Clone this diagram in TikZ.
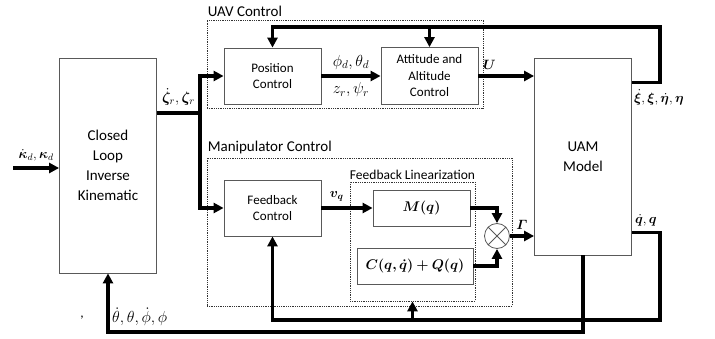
\RequirePackage{fix-cm}
\documentclass[tikz,border=0pt]{standalone}
\usepackage{amsmath}
\usepackage[no-math]{fontspec}
\setmainfont{Carlito}
\usepackage{bm}
\usetikzlibrary{arrows.meta,calc}

\tikzset{
  blk/.style={draw=black!65, line width=0.8pt, minimum width=97pt, align=center,
    font=\fontsize{13}{16.5}\selectfont, inner sep=2pt},
  grp/.style={draw=black!80, densely dotted, line width=0.8pt, inner sep=0pt},
  sig/.style={line width=3.2pt, -{Triangle[length=10pt,width=10pt]}},
  wire/.style={line width=3.2pt},
  lbl/.style={font=\fontsize{13.5}{15}\selectfont, inner sep=1pt},
  lblbig/.style={font=\fontsize{16}{18}\selectfont, inner sep=1pt},
  grplbl/.style={font=\fontsize{15}{17}\selectfont, inner sep=1pt}
}

\begin{document}
\begin{tikzpicture}[x=1pt,y=-1pt]
  \useasboundingbox (0,0) rectangle (715,339);

  % groups
  \node[grp, minimum width=276pt, minimum height=88pt] (uav) at (345,64) {};
  \node[grplbl, anchor=south west] at ($(uav.north west)+(0,-2)$) {UAV Control};
  \node[grp, minimum width=305pt, minimum height=148pt] (man) at (359.5,232) {};
  \node[grplbl, anchor=south west] at ($(man.north west)+(0,-2)$) {Manipulator Control};
  \node[grp, minimum width=125pt, minimum height=119pt] (fl) at (412.5,241.5) {};
  \node[font=\fontsize{13.5}{15}\selectfont, inner sep=1pt, anchor=south] at ($(fl.north)+(0,-1)$) {Feedback Linearization};

  % blocks
  \node[blk, minimum height=215pt, font=\fontsize{15}{20}\selectfont] (clik) at (108,165.5) {Closed\\Loop\\Inverse\\Kinematic};
  \node[blk, minimum height=56pt] (pos) at (272.5,76) {Position\\Control};
  \node[blk, minimum height=57pt] (att) at (429.5,76) {Attitude and\\Altitude\\Control};
  \node[blk, minimum height=197pt, font=\fontsize{15}{20}\selectfont] (uam) at (583,156.5) {UAM\\Model};
  \node[blk, minimum height=36pt, font=\fontsize{14}{16}\selectfont] (mq) at (421.5,208) {$\bm{M(q)}$};
  \node[blk, minimum height=56pt] (fbc) at (272.5,208) {Feedback\\Control};
  \node[blk, minimum width=116pt, minimum height=36pt, font=\fontsize{14}{16}\selectfont] (cq) at (415,266) {$\bm{C(q,\dot{q})+Q(q)}$};
  \node[draw=black!65, line width=0.8pt, circle, minimum size=25pt, inner sep=0pt] (sum) at (497,236) {};
  \draw[black!65, line width=0.8pt] (sum.north east) -- (sum.south west);
  \draw[black!65, line width=0.8pt] (sum.north west) -- (sum.south east);

  % signals
  \coordinate (in) at (13,168);
  \coordinate (jn) at (200,113);
  \coordinate (uo1) at ($(uam.north east)+(0,25)$);
  \coordinate (uo2) at ($(uam.south east)+(0,-23)$);
  \coordinate (fbT) at (660,27);
  \coordinate (fbB) at (660,320);
  \coordinate (fbK) at (583,332);

  \draw[sig] (in) -- (in -| clik.west) node[lbl, midway, above=4pt] {$\dot{\bm\kappa}_d,\bm\kappa_d$};
  \draw[wire] (clik.east |- jn) -- (jn) node[lbl, font=\fontsize{15}{17}\selectfont, midway, above=5pt] {$\dot{\bm\zeta}_r,\bm\zeta_r$};
  \draw[sig] (jn) |- (pos.west);
  \draw[sig] (jn) |- (fbc.west);
  \draw[sig] (pos) -- (att) node[lblbig, midway, above=4pt] {$\phi_d,\theta_d$} node[lblbig, midway, below=4pt] {$z_r,\psi_r$};
  \draw[sig] (att.east) -- (att.east -| uam.west) node[lbl, pos=0.2, above=4pt] {$\bm U$};
  \draw[sig] (uo1) -| (fbT) -| (pos.north);
  \draw[sig] (att.north |- fbT) -- (att.north);
  \node[lbl, anchor=north west] at ($(uo1)+(1,6)$) {$\dot{\bm\xi},\bm\xi,\dot{\bm\eta},\bm\eta$};
  \draw[sig] (fbc.east) -- (mq.west) node[lbl, pos=0.3, above=4pt] {$\bm v_{\bm q}$};
  \draw[sig] (mq.east) -| (sum.north);
  \draw[sig] (cq.east) -| (sum.south);
  \draw[sig] (sum.east) -- (sum.east -| uam.west) node[lbl, midway, above=4pt] {$\bm\varGamma$};
  \draw[sig] (uo2) -| (fbB) -| (fbc.south);
  \draw[sig] (fl.south |- fbB) -- (fl.south);
  \node[lbl, anchor=south west] at ($(uo2)+(2,-5)$) {$\dot{\bm q},\bm q$};
  \draw[sig] (uam.south) -- (fbK) -| (clik.south);
  \node[lblbig, anchor=west] at (111,317) {$\dot\theta,\theta,\dot\phi,\phi$};
  \node[lbl] (cm) at (82,318) {,};
\end{tikzpicture}
\end{document}
